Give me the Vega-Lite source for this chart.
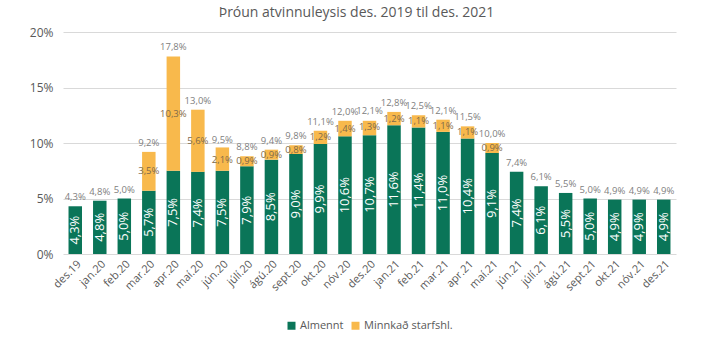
{
  "$schema": "https://vega.github.io/schema/vega-lite/v6.json",
  "width": 613,
  "height": 222,
  "autosize": "none",
  "padding": {"left": 63, "top": 32, "right": 37, "bottom": 84},
  "background": "white",
  "title": {"text": "Þróun atvinnuleysis  des. 2019 til des. 2021", "fontSize": 14, "fontWeight": "normal", "color": "#595959", "font": "Open Sans", "offset": 6, "dx": -13, "anchor": "middle", "frame": "group"},
  "data": {"values": [
    {"mon": "des.19", "a": 0.043, "m": 0, "t": 0.043},
    {"mon": "jan.20", "a": 0.048, "m": 0, "t": 0.048},
    {"mon": "feb.20", "a": 0.050, "m": 0, "t": 0.050},
    {"mon": "mar.20", "a": 0.057, "m": 0.035, "t": 0.092},
    {"mon": "apr.20", "a": 0.075, "m": 0.103, "t": 0.178},
    {"mon": "maí.20", "a": 0.074, "m": 0.056, "t": 0.130},
    {"mon": "jún.20", "a": 0.075, "m": 0.021, "t": 0.095},
    {"mon": "júlí.20", "a": 0.079, "m": 0.009, "t": 0.088},
    {"mon": "ágú.20", "a": 0.085, "m": 0.009, "t": 0.094},
    {"mon": "sept.20", "a": 0.090, "m": 0.008, "t": 0.098},
    {"mon": "okt.20", "a": 0.099, "m": 0.012, "t": 0.111},
    {"mon": "nóv.20", "a": 0.106, "m": 0.014, "t": 0.120},
    {"mon": "des.20", "a": 0.107, "m": 0.013, "t": 0.121},
    {"mon": "jan.21", "a": 0.116, "m": 0.012, "t": 0.128},
    {"mon": "feb.21", "a": 0.114, "m": 0.011, "t": 0.125},
    {"mon": "mar.21", "a": 0.110, "m": 0.011, "t": 0.121},
    {"mon": "apr.21", "a": 0.104, "m": 0.011, "t": 0.115},
    {"mon": "maí.21", "a": 0.091, "m": 0.009, "t": 0.100},
    {"mon": "jún.21", "a": 0.074, "m": 0, "t": 0.074},
    {"mon": "júlí.21", "a": 0.061, "m": 0, "t": 0.061},
    {"mon": "ágú.21", "a": 0.055, "m": 0, "t": 0.055},
    {"mon": "sept.21", "a": 0.050, "m": 0, "t": 0.050},
    {"mon": "okt.21", "a": 0.049, "m": 0, "t": 0.049},
    {"mon": "nóv.21", "a": 0.049, "m": 0, "t": 0.049},
    {"mon": "des.21", "a": 0.049, "m": 0, "t": 0.049}
  ]},
  "encoding": {
    "x": {"field": "mon", "type": "nominal", "sort": null, "title": null,
      "scale": {"paddingInner": 0.45, "paddingOuter": 0.225},
      "axis": {"labelAngle": -45, "labelFontSize": 11, "labelColor": "#595959", "labelFont": "Open Sans", "ticks": false, "domain": false, "labelPadding": 4}}
  },
  "layer": [
    {
      "transform": [{"fold": ["a", "m"], "as": ["k", "v"]}],
      "mark": {"type": "bar"},
      "encoding": {
        "y": {"field": "v", "type": "quantitative", "stack": "zero", "title": null,
          "scale": {"domain": [0, 0.2]},
          "axis": {"format": ".0%", "values": [0, 0.05, 0.1, 0.15, 0.2], "labelFontSize": 12, "labelColor": "#595959", "labelFont": "Open Sans", "ticks": false, "domain": false, "gridColor": "#d9d9d9", "labelPadding": 10}},
        "color": {"field": "k", "type": "nominal", "title": null,
          "scale": {"domain": ["a", "m"], "range": ["#0a7558", "#f8b94c"]},
          "legend": {"orient": "bottom", "direction": "horizontal", "labelExpr": "datum.label == 'a' ? 'Almennt' : 'Minnkað starfshl.'", "symbolType": "square", "symbolSize": 64, "labelFontSize": 11, "labelColor": "#595959", "labelFont": "Open Sans", "offset": 27, "columnPadding": 6, "labelOffset": 3}},
        "order": {"field": "k", "sort": "ascending"}
      }
    },
    {
      "mark": {"type": "text", "angle": -90, "color": "white", "fontSize": 13, "font": "Open Sans", "align": "center", "baseline": "middle"},
      "encoding": {
        "y": {"field": "a", "type": "quantitative", "scale": {"domain": [0, 0.4]}, "axis": null},
        "text": {"field": "a", "type": "quantitative", "format": ".1%"}
      }
    },
    {
      "transform": [
        {"fold": ["a", "t"], "as": ["k", "v"]},
        {"stack": "v", "groupby": ["mon"], "sort": [{"field": "k"}], "as": ["s0", "s1"]},
        {"filter": "datum.k == 't' && datum.m > 0"}
      ],
      "mark": {"type": "text", "color": "#7f6a4a", "fontSize": 9.5, "font": "Open Sans", "baseline": "middle"},
      "encoding": {
        "y": {"field": "s1", "type": "quantitative", "scale": {"domain": [0, 0.4]}, "axis": null},
        "text": {"field": "m", "type": "quantitative", "format": ".1%"}
      }
    },
    {
      "mark": {"type": "text", "color": "#808080", "fontSize": 9.5, "font": "Open Sans", "baseline": "bottom", "dy": -4},
      "encoding": {
        "y": {"field": "t", "type": "quantitative", "scale": {"domain": [0, 0.2]}, "axis": null},
        "text": {"field": "t", "type": "quantitative", "format": ".1%"}
      }
    }
  ],
  "resolve": {"scale": {"y": "independent"}},
  "config": {
    "view": {"stroke": null},
    "locale": {"number": {"decimal": ",", "thousands": ".", "grouping": [3], "currency": ["", " kr."]}},
    "legend": {"layout": {"bottom": {"anchor": "middle"}}}
  }
}
